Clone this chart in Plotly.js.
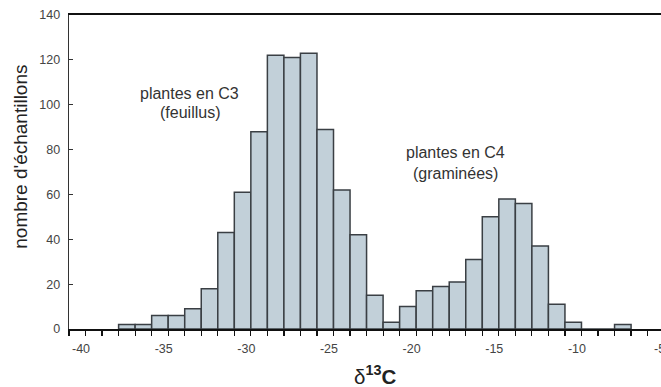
<!DOCTYPE html>
<html>
<head>
<meta charset="utf-8">
<script src="https://cdn.plot.ly/plotly-3.0.1.min.js"></script>
<style>html,body{margin:0;padding:0;background:#fff;overflow:hidden;}#chart{width:661px;height:387px;overflow:hidden;}</style>
</head>
<body>
<div id="chart"></div>
<script>
// bin centres of delta13C (width 1 per mille) and sample counts
const binCenters = [-36.5,-35.5,-34.5,-33.5,-32.5,-31.5,-30.5,-29.5,-28.5,-27.5,-26.5,-25.5,-24.5,-23.5,-22.5,-21.5,-20.5,-19.5,-18.5,-17.5,-16.5,-15.5,-14.5,-13.5,-12.5,-11.5,-10.5,-9.5,-8.5,-7.5,-6.5];
const counts = [2,2,6,6,9,18,43,61,88,122,121,123,89,62,42,15,3,10,17,19,21,31,50,58,56,37,11,3,0,0,2];
const xTickVals = [-40,-35,-30,-25,-20,-15,-10,-5];
const xTickText = ['-40','-35','-30','-25','-20','-15','-10','-5'];
const yTickVals = [0,20,40,60,80,100,120,140];
const labelC3 = ['plantes en C3','(feuillus)'];
const labelC4 = ['plantes en C4','(graminées)'];

const tickFont = {family:'Liberation Sans, Arial, sans-serif', size:12.5, color:'#444'};
const annFont = {family:'Liberation Sans, Arial, sans-serif', size:16, color:'#333'};

const trace = {
  type:'bar', x:binCenters, y:counts, width:1,
  marker:{color:'#c2d0d9', line:{color:'#3a3f44', width:1.5}},
  hoverinfo:'skip'
};

const layout = {
  width:661, height:387,
  margin:{l:69, r:0, t:15, b:58, pad:0},
  paper_bgcolor:'#fff', plot_bgcolor:'#fff',
  showlegend:false,
  bargap:0,
  xaxis:{
    range:[-40,-4.19], showgrid:false, zeroline:false,
    showline:true, linecolor:'#111', linewidth:2, mirror:true,
    tickmode:'array', tickvals:xTickVals, ticktext:xTickText,
    ticks:'outside', ticklen:5, tickwidth:1.2, tickcolor:'#111',
    minor:{dtick:1, tick0:-40, ticks:'outside', ticklen:5, tickwidth:1.2, tickcolor:'#111'},
    tickfont:tickFont, ticklabelshift:12, ticklabelstandoff:2, ticklabeloverflow:'allow'
  },
  yaxis:{
    range:[0,140], showgrid:false, zeroline:false,
    showline:true, linecolor:'#333', linewidth:1.3,
    tickmode:'array', tickvals:yTickVals,
    ticks:'inside', ticklen:4, tickwidth:1, tickcolor:'#333',
    tickfont:tickFont, ticklabelstandoff:5
  },
  annotations:[
    {xref:'paper', yref:'paper', x:-0.082, y:0.55, xanchor:'center', yanchor:'middle', textangle:-90,
     text:"nombre d'échantillons", showarrow:false,
     font:{family:'Liberation Sans, Arial, sans-serif', size:19, color:'#222'}},
    {xref:'paper', yref:'paper', x:0.517, y:-0.147, xanchor:'center', yanchor:'middle',
     text:'δ<b><sup>13</sup>C</b>', showarrow:false,
     font:{family:'Liberation Sans, Arial, sans-serif', size:20.5, color:'#222'}},
    {xref:'x', yref:'y', x:-32.7, y:105.2, text:labelC3[0], showarrow:false, font:annFont},
    {xref:'x', yref:'y', x:-32.7, y:96.7, text:labelC3[1], showarrow:false, font:annFont},
    {xref:'x', yref:'y', x:-16.6, y:78.5, text:labelC4[0], showarrow:false, font:annFont},
    {xref:'x', yref:'y', x:-16.6, y:69.5, text:labelC4[1], showarrow:false, font:annFont}
  ]
};

Plotly.newPlot('chart',[trace],layout,{displayModeBar:false, staticPlot:true});
</script>
</body>
</html>
